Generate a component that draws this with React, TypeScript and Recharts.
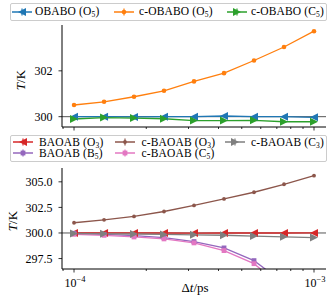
import React from 'react';
import { LineChart, Line, XAxis, YAxis, ReferenceLine } from 'recharts';

// time steps (ps)
const dt = [1.0e-4, 1.334e-4, 1.778e-4, 2.371e-4, 3.162e-4, 4.217e-4, 5.623e-4, 7.499e-4, 1.0e-3];
// top panel series (K)
const obaboO5 = [300.0, 300.0, 299.99, 300.0, 300.0, 300.03, 300.0, 300.0, 299.97];
const cObaboO5 = [300.51, 300.65, 300.87, 301.13, 301.54, 301.9, 302.45, 303.04, 303.73];
const cObaboC5 = [299.9, 299.96, 299.94, 299.91, 299.83, 299.83, 299.84, 299.78, 299.78];
// bottom panel series (K)
const baoabO3 = [300.0, 300.01, 300.0, 300.0, 299.99, 300.0, 300.0, 300.0, 300.01];
const baoabB5 = [299.97, 299.87, 299.74, 299.55, 299.16, 298.54, 297.3, 295.1, 291.5];
const cBaoabO3 = [301.0, 301.29, 301.62, 302.1, 302.69, 303.33, 303.98, 304.76, 305.6];
const cBaoabC5 = [299.87, 299.77, 299.61, 299.42, 299.03, 298.28, 297.0, 294.6, 290.8];
const cBaoabC3 = [299.95, 299.92, 299.9, 299.86, 299.82, 299.78, 299.7, 299.62, 299.55];

const xTicks = [9e-5, 1e-4, 2e-4, 3e-4, 4e-4, 5e-4, 6e-4, 7e-4, 8e-4, 9e-4, 1e-3];
const xMajor = [1e-4, 1e-3];
const xMajorExp = ['4', '3'];
const topYTicks = [300, 302];
const botYTicks = [297.5, 300.0, 302.5, 305.0];

const topData = dt.map((d, i) => ({ dt: d, a: obaboO5[i], b: cObaboO5[i], c: cObaboC5[i] }));
const botData = dt.map((d, i) => ({ dt: d, r: baoabO3[i], p: baoabB5[i], br: cBaoabO3[i], pk: cBaoabC5[i], g: cBaoabC3[i] }));

const FONT = "'Liberation Serif', serif";
const C = {
  blue: '#1f77b4', orange: '#ff7f0e', green: '#2ca02c', red: '#d62728',
  purple: '#9467bd', brown: '#8c564b', pink: '#e377c2', gray: '#7f7f7f',
};

type MK = 'left' | 'right' | 'circle' | 'smallcircle' | 'square';

function markerEl(kind: MK, cx: number, cy: number, color: string, key?: any) {
  if (cx == null || cy == null || isNaN(cx) || isNaN(cy)) return <g key={key} />;
  if (kind === 'left') {
    const s = 4;
    return <polygon key={key} points={`${cx - s},${cy} ${cx + s},${cy - s} ${cx + s},${cy + s}`} fill={color} />;
  }
  if (kind === 'right') {
    const s = 4;
    return <polygon key={key} points={`${cx + s},${cy} ${cx - s},${cy - s} ${cx - s},${cy + s}`} fill={color} />;
  }
  if (kind === 'circle') return <circle key={key} cx={cx} cy={cy} r={2.3} fill={color} />;
  if (kind === 'smallcircle') return <circle key={key} cx={cx} cy={cy} r={1.9} fill={color} />;
  return <rect key={key} x={cx - 2.4} y={cy - 2.4} width={4.8} height={4.8} fill={color} />;
}

const dotFn = (kind: MK, color: string) => (props: any) => markerEl(kind, props.cx, props.cy, color, props.key ?? props.index);

function makeXTick(showLabel: boolean) {
  return (props: any) => {
    const { x, y, payload } = props;
    const v = payload.value;
    const mi = xMajor.findIndex((m) => Math.abs(v / m - 1) < 1e-6);
    const major = mi >= 0;
    const len = major ? 3.5 : 2;
    return (
      <g>
        <line x1={x} x2={x} y1={y} y2={y + len} stroke="#000" strokeWidth={0.8} />
        {showLabel && major && (
          <text x={x + 1} y={y + 17.5} textAnchor="middle" fontSize={12} fontFamily={FONT} fill="#000">
            10<tspan dy={-5} fontSize={8.5}>−{xMajorExp[mi]}</tspan>
          </text>
        )}
      </g>
    );
  };
}

function YLabel({ cx, cy }: { cx: number; cy: number }) {
  return (
    <text x={cx} y={cy} transform={`rotate(-90 ${cx} ${cy})`} textAnchor="middle" dominantBaseline="central" fontSize={13} fontFamily={FONT} fill="#000">
      <tspan fontStyle="italic">T</tspan>/K
    </text>
  );
}

function Handle({ kind, color }: { kind: MK; color: string }) {
  return (
    <svg width={20} height={12} style={{ display: 'block' }}>
      <line x1={0} x2={20} y1={6} y2={6} stroke={color} strokeWidth={1.5} />
      <line x1={10} x2={10} y1={2.5} y2={9.5} stroke={color} strokeWidth={1.2} />
      {markerEl(kind, 10, 6, color)}
    </svg>
  );
}

function LegendItem(props: { hx: number; tx: number; cy: number; kind: MK; color: string; label: string; letter: string; sub: string }) {
  const { hx, tx, cy, kind, color, label, letter, sub } = props;
  return (
    <>
      <div style={{ position: 'absolute', left: hx, top: cy - 6 }}>
        <Handle kind={kind} color={color} />
      </div>
      <div style={{ position: 'absolute', left: tx, top: cy - 5.5, height: 11, lineHeight: '11px', fontSize: 11.5, fontFamily: FONT, whiteSpace: 'nowrap', letterSpacing: 0.15 }}>
        {label} ({letter}<sub style={{ fontSize: 7.5, verticalAlign: 'baseline', position: 'relative', top: 2, lineHeight: 0 }}>{sub}</sub>)
      </div>
    </>
  );
}

const yTickStyle = { fontSize: 12, fontFamily: FONT, fill: '#000' };

export default function App() {
  const W = 332;
  const H = 302;
  return (
    <div style={{ position: 'absolute', left: 0, top: 0, width: W, height: H, background: '#fff', overflow: 'hidden' }}>
      {/* top panel */}
      <div style={{ position: 'absolute', left: 0, top: 0 }}>
        <LineChart width={W} height={H} data={topData} margin={{ top: 25, right: 6, left: 0, bottom: 302 - 127 - 10 }}>
          <XAxis xAxisId="x" dataKey="dt" type="number" scale="log" domain={[8.91e-5, 1.122e-3]} ticks={xTicks} allowDataOverflow
            height={10} tickLine={false} tickSize={0} tickMargin={0} axisLine={{ stroke: '#000', strokeWidth: 1 }} tick={makeXTick(false)} interval={0} />
          <XAxis xAxisId="top" orientation="top" dataKey="dt" type="number" scale="log" domain={[8.91e-5, 1.122e-3]} allowDataOverflow
            height={0} tick={false} tickLine={false} axisLine={{ stroke: '#000', strokeWidth: 1 }} />
          <YAxis yAxisId="y" type="number" domain={[299.55, 304.0]} ticks={topYTicks} allowDataOverflow width={62}
            tickSize={3.5} tickMargin={6} tickLine={{ stroke: '#000', strokeWidth: 0.8 }} axisLine={{ stroke: '#000', strokeWidth: 1 }}
            tick={yTickStyle} tickFormatter={(v: number) => String(v)} interval={0} />
          <YAxis yAxisId="r" orientation="right" type="number" domain={[299.55, 304.0]} allowDataOverflow width={0}
            tick={false} tickLine={false} axisLine={{ stroke: '#000', strokeWidth: 1 }} />
          <ReferenceLine xAxisId="x" yAxisId="y" y={300} stroke="#555" strokeWidth={1} />
          <Line xAxisId="x" yAxisId="y" dataKey="a" stroke={C.blue} strokeWidth={1.3} dot={dotFn('left', C.blue)} isAnimationActive={false} />
          <Line xAxisId="x" yAxisId="y" dataKey="b" stroke={C.orange} strokeWidth={1.3} dot={dotFn('circle', C.orange)} isAnimationActive={false} />
          <Line xAxisId="x" yAxisId="y" dataKey="c" stroke={C.green} strokeWidth={1.3} dot={dotFn('right', C.green)} isAnimationActive={false} />
        </LineChart>
      </div>
      {/* bottom panel */}
      <div style={{ position: 'absolute', left: 0, top: 0 }}>
        <LineChart width={W} height={H} data={botData} margin={{ top: 168, right: 6, left: 0, bottom: 3 }}>
          <XAxis xAxisId="x" dataKey="dt" type="number" scale="log" domain={[8.91e-5, 1.122e-3]} ticks={xTicks} allowDataOverflow
            height={30} tickLine={false} tickSize={0} tickMargin={0} axisLine={{ stroke: '#000', strokeWidth: 1 }} tick={makeXTick(true)} interval={0} />
          <XAxis xAxisId="top" orientation="top" dataKey="dt" type="number" scale="log" domain={[8.91e-5, 1.122e-3]} allowDataOverflow
            height={0} tick={false} tickLine={false} axisLine={{ stroke: '#000', strokeWidth: 1 }} />
          <YAxis yAxisId="y" type="number" domain={[296.48, 306.35]} ticks={botYTicks} allowDataOverflow width={62}
            tickSize={3.5} tickMargin={6} tickLine={{ stroke: '#000', strokeWidth: 0.8 }} axisLine={{ stroke: '#000', strokeWidth: 1 }}
            tick={yTickStyle} tickFormatter={(v: number) => v.toFixed(1)} interval={0} />
          <YAxis yAxisId="r" orientation="right" type="number" domain={[296.48, 306.35]} allowDataOverflow width={0}
            tick={false} tickLine={false} axisLine={{ stroke: '#000', strokeWidth: 1 }} />
          <ReferenceLine xAxisId="x" yAxisId="y" y={300} stroke="#555" strokeWidth={1} />
          <Line xAxisId="x" yAxisId="y" dataKey="r" stroke={C.red} strokeWidth={1.3} dot={dotFn('left', C.red)} isAnimationActive={false} />
          <Line xAxisId="x" yAxisId="y" dataKey="p" stroke={C.purple} strokeWidth={1.3} dot={dotFn('square', C.purple)} isAnimationActive={false} />
          <Line xAxisId="x" yAxisId="y" dataKey="br" stroke={C.brown} strokeWidth={1.3} dot={dotFn('smallcircle', C.brown)} isAnimationActive={false} />
          <Line xAxisId="x" yAxisId="y" dataKey="pk" stroke={C.pink} strokeWidth={1.3} dot={dotFn('square', C.pink)} isAnimationActive={false} />
          <Line xAxisId="x" yAxisId="y" dataKey="g" stroke={C.gray} strokeWidth={1.3} dot={dotFn('right', C.gray)} isAnimationActive={false} />
        </LineChart>
      </div>
      {/* axis labels */}
      <svg width={W} height={H} style={{ position: 'absolute', left: 0, top: 0, pointerEvents: 'none' }}>
        <YLabel cx={20} cy={80} />
        <YLabel cx={12} cy={221} />
        <text x={195} y={292} textAnchor="middle" fontSize={13} fontFamily={FONT} fill="#000">
          Δ<tspan fontStyle="italic">t</tspan>/ps
        </text>
      </svg>
      {/* top legend */}
      <div style={{ position: 'absolute', left: 10, top: 3, width: 315, height: 16, border: '1px solid #cccccc', borderRadius: 2, background: 'rgba(255,255,255,0.8)' }} />
      <LegendItem hx={12} tx={35} cy={11.5} kind="left" color={C.blue} label="OBABO" letter="O" sub="5" />
      <LegendItem hx={114} tx={139} cy={11.5} kind="circle" color={C.orange} label="c-OBABO" letter="O" sub="5" />
      <LegendItem hx={227} tx={251} cy={11.5} kind="right" color={C.green} label="c-OBABO" letter="C" sub="5" />
      {/* bottom legend */}
      <div style={{ position: 'absolute', left: 10, top: 135, width: 315, height: 25, border: '1px solid #cccccc', borderRadius: 2, background: 'rgba(255,255,255,0.8)' }} />
      <LegendItem hx={13} tx={39} cy={142} kind="left" color={C.red} label="BAOAB" letter="O" sub="3" />
      <LegendItem hx={13} tx={39} cy={153} kind="square" color={C.purple} label="BAOAB" letter="B" sub="5" />
      <LegendItem hx={115} tx={141.5} cy={142} kind="smallcircle" color={C.brown} label="c-BAOAB" letter="O" sub="3" />
      <LegendItem hx={115} tx={141.5} cy={153} kind="square" color={C.pink} label="c-BAOAB" letter="C" sub="5" />
      <LegendItem hx={225} tx={251} cy={142} kind="right" color={C.gray} label="c-BAOAB" letter="C" sub="3" />
    </div>
  );
}
